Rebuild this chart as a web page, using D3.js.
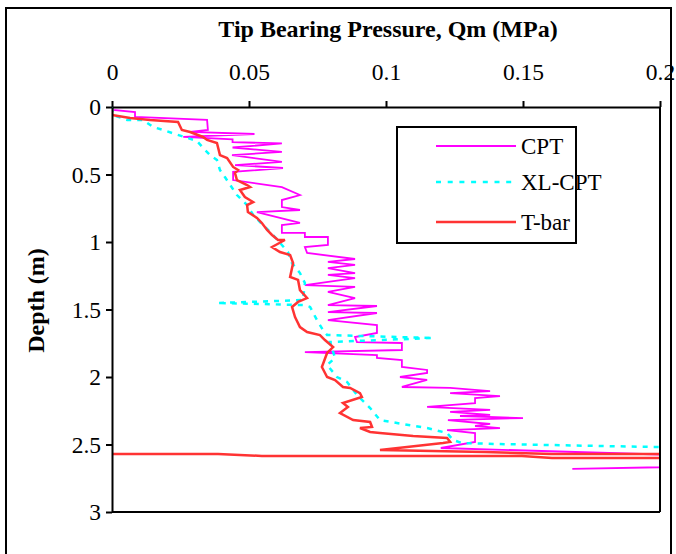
<!DOCTYPE html>
<html lang="en">
    <head>
        <meta charset="utf-8">
        <title>Tip bearing pressure vs depth</title>
        <script src="https://d3js.org/d3.v7.min.js"></script>
        <style type="text/css">
          body { margin: 0; background: #fff; }
          svg { width: 676px; height: 554px; display: block; }
          .title { font-family: "Liberation Serif", serif; font-size: 24px; font-weight: bold; }
          .tick text { font-family: "Liberation Serif", serif; font-size: 23.5px; fill: #000; }
          .legend { font-family: "Liberation Serif", serif; font-size: 23px; }
        </style>
    </head>
    <body>
        <svg></svg>
        <script type="text/javascript">

        // values: [q (MPa), depth (m)]
        const cpt = [
          [0, 0], [0.0004, 0.022], [0.0084, 0.037], [0.0084, 0.074], [0.0347, 0.096], [0.035, 0.17],
          [0.0285, 0.185], [0.052, 0.2], [0.026, 0.222], [0.044, 0.24], [0.044, 0.26], [0.062, 0.27],
          [0.044, 0.3], [0.062, 0.333], [0.0438, 0.356], [0.062, 0.407], [0.0449, 0.43], [0.0624, 0.452],
          [0.0442, 0.481], [0.0442, 0.541], [0.062, 0.593], [0.0686, 0.652], [0.062, 0.689], [0.062, 0.741],
          [0.0686, 0.763], [0.0529, 0.778], [0.0686, 0.859], [0.062, 0.874], [0.062, 0.933], [0.0704, 0.933],
          [0.0704, 0.963], [0.0788, 0.963], [0.0788, 1.022], [0.0704, 1.037], [0.0712, 1.081], [0.0887, 1.126],
          [0.0788, 1.148], [0.0887, 1.17], [0.0788, 1.193], [0.0887, 1.23], [0.0788, 1.244], [0.0887, 1.267],
          [0.0704, 1.319], [0.0887, 1.333], [0.0788, 1.37], [0.0887, 1.415], [0.0788, 1.467], [0.0967, 1.474],
          [0.0788, 1.519], [0.0967, 1.526], [0.0788, 1.578], [0.0967, 1.615], [0.0967, 1.674], [0.0887, 1.704],
          [0.0894, 1.741], [0.1058, 1.748], [0.1058, 1.8], [0.0704, 1.815], [0.0967, 1.837], [0.0967, 1.859],
          [0.1058, 1.874], [0.1058, 1.926], [0.115, 1.948], [0.115, 1.97], [0.1051, 2.0], [0.115, 2.022],
          [0.1058, 2.074], [0.1234, 2.081], [0.138, 2.104], [0.1234, 2.119], [0.1416, 2.141], [0.1325, 2.156],
          [0.1325, 2.193], [0.115, 2.222], [0.138, 2.244], [0.1234, 2.259], [0.138, 2.281], [0.127, 2.289],
          [0.15, 2.304], [0.1226, 2.319], [0.138, 2.348], [0.1325, 2.363], [0.1416, 2.378], [0.1223, 2.393],
          [0.1325, 2.415], [0.1325, 2.481], [0.12, 2.526], [0.26, 2.61], [0.3, 2.63], [0.168, 2.681]
        ];

        const xlcpt = [
          [0, 0], [0.0004, 0.059], [0.0055, 0.096], [0.0113, 0.096], [0.015, 0.148], [0.0186, 0.17],
          [0.023, 0.2], [0.0277, 0.23], [0.031, 0.252], [0.034, 0.319], [0.0358, 0.356], [0.0383, 0.393],
          [0.0394, 0.467], [0.0412, 0.519], [0.0456, 0.652], [0.0493, 0.726], [0.0515, 0.8], [0.0551, 0.874],
          [0.0588, 0.948], [0.0642, 1.074], [0.0657, 1.156], [0.0686, 1.23], [0.0704, 1.304], [0.0697, 1.43],
          [0.0383, 1.452], [0.0704, 1.467], [0.0723, 1.481], [0.0748, 1.578], [0.077, 1.652], [0.0785, 1.689],
          [0.1172, 1.711], [0.0796, 1.741], [0.0814, 1.859], [0.0785, 1.911], [0.0821, 2.0], [0.0858, 2.037],
          [0.0894, 2.133], [0.0942, 2.23], [0.0978, 2.319], [0.104, 2.341], [0.115, 2.378], [0.1223, 2.415],
          [0.1245, 2.467], [0.1277, 2.489], [0.1398, 2.496], [0.1781, 2.511], [0.2, 2.519], [0.25, 2.53]
        ];

        const tbar = [
          [0, 0.007], [0, 0.059], [0.0066, 0.081], [0.0139, 0.096], [0.0241, 0.111], [0.0255, 0.17],
          [0.0285, 0.185], [0.0332, 0.222], [0.0347, 0.244], [0.0383, 0.267], [0.0394, 0.356], [0.042, 0.378],
          [0.0442, 0.444], [0.046, 0.467], [0.0449, 0.489], [0.0456, 0.541], [0.0493, 0.578], [0.0504, 0.593],
          [0.0467, 0.615], [0.0485, 0.667], [0.0515, 0.704], [0.0493, 0.726], [0.0496, 0.778], [0.0529, 0.822],
          [0.0547, 0.859], [0.0566, 0.911], [0.0584, 0.948], [0.0606, 0.985], [0.0631, 0.985], [0.0584, 1.037],
          [0.0613, 1.074], [0.065, 1.096], [0.0661, 1.156], [0.065, 1.259], [0.0679, 1.281], [0.0686, 1.356],
          [0.0712, 1.415], [0.0679, 1.444], [0.0657, 1.481], [0.0668, 1.556], [0.0686, 1.63], [0.0712, 1.667],
          [0.0759, 1.689], [0.0777, 1.726], [0.0807, 1.778], [0.0785, 1.822], [0.0766, 1.926], [0.0785, 2.0],
          [0.0814, 2.022], [0.0843, 2.074], [0.0869, 2.081], [0.0905, 2.119], [0.0912, 2.148], [0.0843, 2.193],
          [0.0861, 2.222], [0.0832, 2.267], [0.088, 2.319], [0.0942, 2.333], [0.0949, 2.37], [0.0905, 2.378],
          [0.0942, 2.407], [0.0978, 2.415], [0.1099, 2.437], [0.1223, 2.452], [0.1234, 2.481], [0.1208, 2.489],
          [0.0978, 2.541], [0.1361, 2.556], [0.1606, 2.57], [0.25, 2.572], [0.25, 2.6], [0.1606, 2.6],
          [0.1496, 2.585], [0.0547, 2.585], [0.0387, 2.57], [0, 2.57]
        ];

        const xTicks = [0, 0.05, 0.1, 0.15, 0.2];
        const xTickLabels = ["0", "0.05", "0.1", "0.15", "0.2"];
        const yTicks = [0, 0.5, 1, 1.5, 2, 2.5, 3];
        const yTickLabels = ["0", "0.5", "1", "1.5", "2", "2.5", "3"];

        const seriesNames = ["CPT", "XL-CPT", "T-bar"];
        const seriesColors = ["#ff00ff", "#00ffff", "#ff3333"];

        const plotLeft = 112, plotRight = 660, plotTop = 107, plotBottom = 512;

        const x = d3.scaleLinear().domain([0, 0.2]).range([plotLeft, plotRight]);
        const y = d3.scaleLinear().domain([0, 3]).range([plotTop, plotBottom]);

        const svg = d3.select("svg");

        // outer frame
        svg.append("rect")
           .attr("x", 6).attr("y", 8)
           .attr("width", 665).attr("height", 560)
           .attr("fill", "none")
           .attr("stroke", "#000")
           .attr("stroke-width", 2);

        svg.append("clipPath").attr("id", "plotclip")
           .append("rect")
           .attr("x", plotLeft).attr("y", plotTop)
           .attr("width", plotRight - plotLeft).attr("height", plotBottom - plotTop);

        const line = d3.line().x(d => x(d[0])).y(d => y(d[1]));

        const plot = svg.append("g").attr("clip-path", "url(#plotclip)");

        plot.append("path")
            .attr("d", line(cpt))
            .attr("fill", "none")
            .attr("stroke", seriesColors[0])
            .attr("stroke-width", 1.8);

        plot.append("path")
            .attr("d", line(xlcpt))
            .attr("fill", "none")
            .attr("stroke", seriesColors[1])
            .attr("stroke-width", 2.5)
            .attr("stroke-dasharray", "5,6");

        plot.append("path")
            .attr("d", line(tbar))
            .attr("fill", "none")
            .attr("stroke", seriesColors[2])
            .attr("stroke-width", 2.5);

        // box lines on right and bottom
        svg.append("line")
           .attr("x1", plotRight).attr("x2", plotRight).attr("y1", plotTop).attr("y2", plotBottom)
           .attr("stroke", "#000").attr("stroke-width", 2);
        svg.append("line")
           .attr("x1", plotLeft).attr("x2", plotRight).attr("y1", plotBottom).attr("y2", plotBottom)
           .attr("stroke", "#000").attr("stroke-width", 2);

        // axes
        const xAxis = d3.axisTop(x)
                        .tickValues(xTicks)
                        .tickFormat((d, i) => xTickLabels[i])
                        .tickSizeInner(6).tickSizeOuter(0).tickPadding(21);
        const gx = svg.append("g").attr("transform", "translate(0," + plotTop + ")").call(xAxis);

        const yAxis = d3.axisLeft(y)
                        .tickValues(yTicks)
                        .tickFormat((d, i) => yTickLabels[i])
                        .tickSizeInner(6).tickSizeOuter(0).tickPadding(5);
        const gy = svg.append("g").attr("transform", "translate(" + plotLeft + ",0)").call(yAxis);

        [gx, gy].forEach(g => {
            g.select(".domain").attr("stroke", "#000").attr("stroke-width", 2);
            g.selectAll(".tick line").attr("stroke", "#000").attr("stroke-width", 2);
        });

        // axis titles
        svg.append("text")
           .attr("class", "title")
           .attr("x", (plotLeft + plotRight) / 2 + 2)
           .attr("y", 37)
           .attr("text-anchor", "middle")
           .text("Tip Bearing Pressure, Qm (MPa)");

        svg.append("text")
           .attr("class", "title")
           .attr("transform", "translate(44," + ((plotTop + plotBottom) / 2 - 9) + ") rotate(-90)")
           .attr("text-anchor", "middle")
           .text("Depth (m)");

        // legend
        const legend = svg.append("g");
        legend.append("rect")
              .attr("x", 397).attr("y", 127)
              .attr("width", 179).attr("height", 116)
              .attr("fill", "#fff")
              .attr("stroke", "#000")
              .attr("stroke-width", 2);

        const legendY = [146, 182, 222];
        seriesNames.forEach((name, i) => {
            legend.append("line")
                  .attr("x1", 436).attr("x2", 516)
                  .attr("y1", legendY[i]).attr("y2", legendY[i])
                  .attr("stroke", seriesColors[i])
                  .attr("stroke-width", i === 0 ? 1.8 : 2.5)
                  .attr("stroke-dasharray", i === 1 ? "5,6.7" : null);
            legend.append("text")
                  .attr("class", "legend")
                  .attr("x", 521)
                  .attr("y", legendY[i])
                  .attr("dy", "0.35em")
                  .text(name);
        });

        </script>
    </body>
</html>
